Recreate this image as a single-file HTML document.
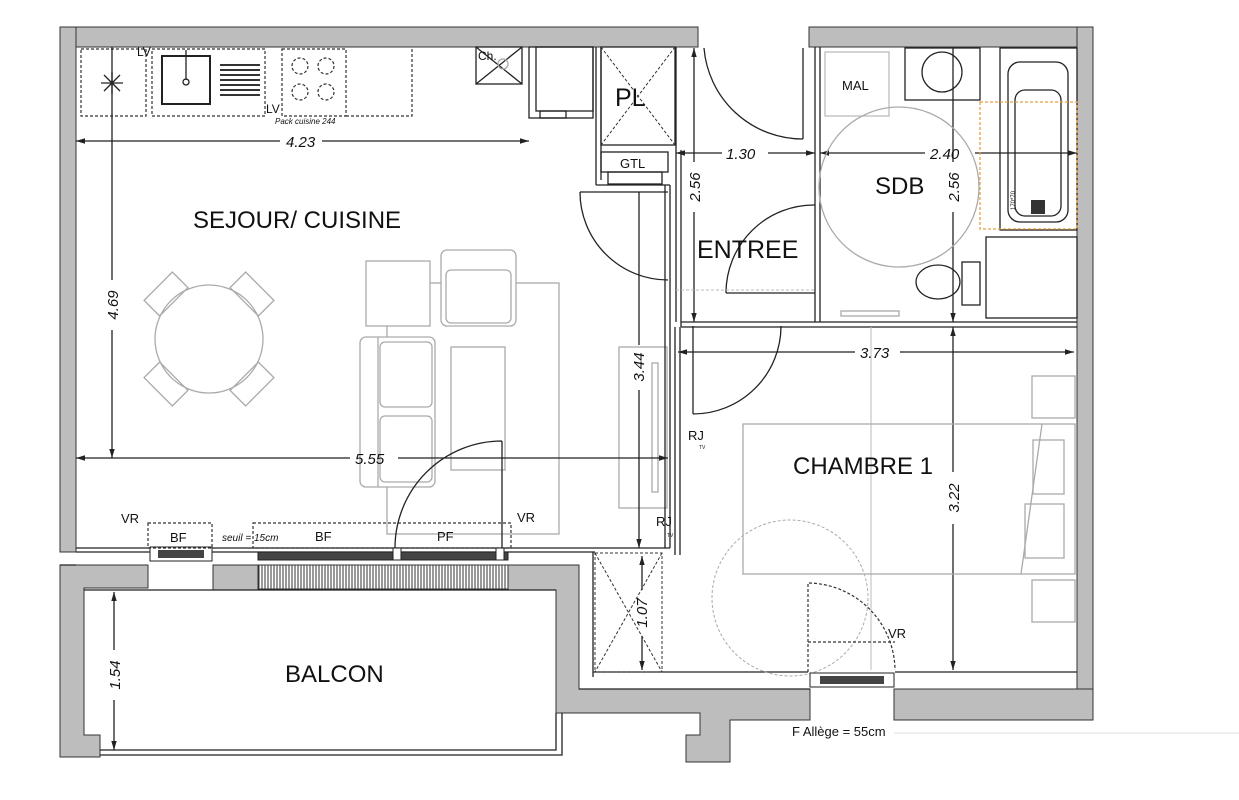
<!DOCTYPE html>
<html><head><meta charset="utf-8"><style>
html,body{margin:0;padding:0;background:#fff;}
svg{display:block;}
text{font-family:"Liberation Sans",sans-serif;fill:#111;}
.d{font-style:italic;font-size:15px;}
.w{fill:#bdbdbd;stroke:#333;stroke-width:1;}
.l{stroke:#222;stroke-width:1.3;fill:none;}
.g{stroke:#aaa;stroke-width:1.3;fill:none;}
.dash{stroke:#333;stroke-width:1.2;fill:none;stroke-dasharray:3,2;}
</style></head><body>
<svg width="1239" height="800" viewBox="0 0 1239 800" xmlns="http://www.w3.org/2000/svg">
<defs>
<pattern id="h" width="3" height="10" patternUnits="userSpaceOnUse"><rect width="3" height="10" fill="#fff"/><line x1="1" y1="0" x2="1" y2="10" stroke="#333" stroke-width="1"/></pattern>
<marker id="a" viewBox="0 0 10 10" refX="10" refY="5" markerWidth="7" markerHeight="7" orient="auto-start-reverse"><path d="M0,2 L10,5 L0,8 z" fill="#222"/></marker>
</defs>
<!-- sejour furniture (drawn first) -->
<circle cx="209" cy="339" r="54" class="g"/>
<g class="g"><rect x="-20" y="-11" width="40" height="22" transform="translate(166,294) rotate(-45)"/><rect x="-20" y="-11" width="40" height="22" transform="translate(252,294) rotate(45)"/><rect x="-20" y="-11" width="40" height="22" transform="translate(166,384) rotate(45)"/><rect x="-20" y="-11" width="40" height="22" transform="translate(252,384) rotate(-45)"/>
<rect x="387" y="283" width="172" height="251"/>
<rect x="366" y="261" width="64" height="65" fill="#fff"/>
<rect x="441" y="250" width="75" height="76" rx="6" fill="#fff"/><rect x="446" y="270" width="65" height="53" rx="5"/>
<rect x="360" y="337" width="75" height="150" rx="6" fill="#fff"/><rect x="380" y="342" width="52" height="65" rx="5"/><rect x="380" y="416" width="52" height="66" rx="5"/><line x1="378" y1="337" x2="378" y2="487"/>
<rect x="451" y="347" width="54" height="123" fill="#fff"/>
<rect x="619" y="347" width="48" height="161"/><rect x="652" y="363" width="6" height="129"/></g>
<!-- walls -->
<rect class="w" x="60" y="27" width="638" height="20"/>
<rect class="w" x="60" y="27" width="16" height="525"/>
<rect class="w" x="809" y="27" width="284" height="20"/>
<rect class="w" x="1077" y="27" width="16" height="693"/>
<polygon class="w" points="60,565 148,565 148,588 84,588 84,735 100,735 100,757 60,757"/>
<rect class="w" x="213" y="565" width="45" height="25"/>
<polygon class="w" points="508,565 579,565 579,689 810,689 810,720 730,720 730,762 686,762 686,735 700,735 700,713 556,713 556,590 508,590"/>
<rect class="w" x="894" y="689" width="199" height="31"/>
<rect x="258" y="565" width="250" height="24" fill="url(#h)" stroke="#333"/>
<!-- balcony -->
<path class="l" d="M84,590 L556,590 M100,750 L556,750 L556,713 M100,755 L562,755 L562,713"/>
<!-- floor line sejour -->
<path class="l" d="M76,548 L595,548 M76,552 L595,552 M76,565 L60,565"/>
<rect x="150" y="547" width="62" height="14" fill="#fff" stroke="#222"/><rect x="158" y="550" width="46" height="8" fill="#444"/>
<rect x="258" y="552" width="250" height="8" fill="#444" stroke="#222"/>
<rect x="393" y="548" width="8" height="12" fill="#fff" stroke="#222"/><rect x="496" y="548" width="8" height="12" fill="#fff" stroke="#222"/>
<rect class="dash" x="148" y="523" width="64" height="25"/>
<rect class="dash" x="253" y="523" width="258" height="25"/>
<!-- partitions -->
<path class="l" d="M596,47 L596,185 M601,47 L601,180 M596,185 L670,185 M665,185 L665,548 M670,185 L670,548 M595,548 L670,548"/>
<path class="l" d="M676,47 L676,322 M681,150 L681,327 M815,47 L815,322 M820,47 L820,322 M681,322 L1077,322 M681,327 L1077,327"/>
<path class="l" d="M675,327 L675,555 M680,327 L680,555 M593,552 L593,677 M593,672 L808,672 M895,672 L1077,672 M579,689 L810,689"/>
<!-- kitchen -->
<rect class="dash" x="81" y="49" width="65" height="67"/>
<rect class="dash" x="152" y="49" width="113" height="67"/>
<rect class="dash" x="282" y="49" width="64" height="67"/>
<path class="dash" d="M346,116 L412,116 L412,49"/>
<rect x="162" y="56" width="48" height="48" fill="none" stroke="#222" stroke-width="2"/>
<line x1="186" y1="50" x2="186" y2="80" class="l"/><circle cx="186" cy="82" r="3" class="l"/>
<g stroke="#333" stroke-width="2"><line x1="220" y1="65" x2="260" y2="65"/><line x1="220" y1="70" x2="260" y2="70"/><line x1="220" y1="75" x2="260" y2="75"/><line x1="220" y1="80" x2="260" y2="80"/><line x1="220" y1="85" x2="260" y2="85"/><line x1="220" y1="90" x2="260" y2="90"/><line x1="220" y1="95" x2="260" y2="95"/></g>
<g class="dash"><circle cx="300" cy="66" r="8"/><circle cx="326" cy="66" r="8"/><circle cx="300" cy="92" r="8"/><circle cx="326" cy="92" r="8"/></g>
<path class="l" d="M101,83 L123,83 M112,72 L112,94 M104,75 L120,91 M120,75 L104,91"/>
<text x="137" y="56" font-size="12">LV</text><text x="266" y="113" font-size="12">LV</text>
<text x="275" y="124" font-size="8" font-style="italic" fill="#444">Pack cuisine 244</text>
<rect x="476" y="47" width="46" height="37" class="l"/><path class="l" d="M476,47 L522,84 M522,47 L476,84"/><circle cx="503" cy="64" r="5" class="g"/>
<text x="478" y="60" font-size="12">Ch.</text>
<rect x="529" y="47" width="64" height="71" class="l"/><rect x="536" y="47" width="57" height="64" class="l"/><rect x="540" y="111" width="26" height="7" class="l"/>
<rect x="601" y="47" width="74" height="98" class="l"/><path d="M601,47 L675,145 M675,47 L601,145" stroke="#333" stroke-dasharray="3,2" fill="none"/>
<text x="615" y="106" font-size="25">PL</text>
<rect x="601" y="152" width="67" height="20" class="l"/><rect x="608" y="172" width="54" height="12" class="l"/>
<text x="620" y="168" font-size="13">GTL</text>
<!-- doors -->
<path class="l" d="M580,192 L668,192 M580,192 A88,88 0 0 0 668,280"/>
<path class="l" d="M803,48 L803,139 M704,48 A99,99 0 0 0 803,139"/>
<path class="l" d="M726,293 L815,293 M815,205 A88,88 0 0 0 726,293"/>
<path class="l" d="M693,326 L693,414 M693,414 A88,88 0 0 0 781,326"/>
<path class="l" d="M502,441 L502,548 M502,441 A107,107 0 0 0 395,548"/>
<!-- dims -->
<g class="l" stroke-width="1"><line x1="76" y1="141" x2="280" y2="141" marker-start="url(#a)"/><line x1="322" y1="141" x2="529" y2="141" marker-end="url(#a)"/>
<line x1="112" y1="47" x2="112" y2="280"/><line x1="112" y1="330" x2="112" y2="458" marker-end="url(#a)"/>
<line x1="76" y1="458" x2="350" y2="458" marker-start="url(#a)"/><line x1="398" y1="458" x2="668" y2="458" marker-end="url(#a)"/>
<line x1="639" y1="192" x2="639" y2="345"/><line x1="639" y1="390" x2="639" y2="548" marker-end="url(#a)"/>
<line x1="676" y1="153" x2="722" y2="153" marker-start="url(#a)"/><line x1="768" y1="153" x2="815" y2="153" marker-end="url(#a)"/>
<line x1="694" y1="48" x2="694" y2="162" marker-start="url(#a)"/><line x1="694" y1="212" x2="694" y2="322" marker-end="url(#a)"/>
<line x1="820" y1="153" x2="925" y2="153" marker-start="url(#a)"/><line x1="975" y1="153" x2="1077" y2="153" marker-end="url(#a)"/>
<line x1="953" y1="48" x2="953" y2="162"/><line x1="953" y1="212" x2="953" y2="322" marker-end="url(#a)"/>
<line x1="678" y1="352" x2="855" y2="352" marker-start="url(#a)"/><line x1="900" y1="352" x2="1074" y2="352" marker-end="url(#a)"/>
<line x1="953" y1="327" x2="953" y2="472" marker-start="url(#a)"/><line x1="953" y1="524" x2="953" y2="670" marker-end="url(#a)"/>
<line x1="642" y1="556" x2="642" y2="590" marker-start="url(#a)"/><line x1="642" y1="636" x2="642" y2="670" marker-end="url(#a)"/>
<line x1="114" y1="592" x2="114" y2="650" marker-start="url(#a)"/><line x1="114" y1="700" x2="114" y2="750" marker-end="url(#a)"/></g>
<text class="d" x="286" y="147">4.23</text><text class="d" x="355" y="464">5.55</text>
<text class="d" x="726" y="159">1.30</text><text class="d" x="930" y="159">2.40</text><text class="d" x="860" y="358">3.73</text>
<text class="d" transform="translate(118,305) rotate(-90)" text-anchor="middle">4.69</text>
<text class="d" transform="translate(644,367) rotate(-90)" text-anchor="middle">3.44</text>
<text class="d" transform="translate(700,187) rotate(-90)" text-anchor="middle">2.56</text>
<text class="d" transform="translate(959,187) rotate(-90)" text-anchor="middle">2.56</text>
<text class="d" transform="translate(959,498) rotate(-90)" text-anchor="middle">3.22</text>
<text class="d" transform="translate(647,613) rotate(-90)" text-anchor="middle">1.07</text>
<text class="d" transform="translate(120,675) rotate(-90)" text-anchor="middle">1.54</text>
<text x="193" y="228" font-size="24">SEJOUR/ CUISINE</text>
<text x="121" y="523" font-size="13">VR</text><text x="517" y="522" font-size="13">VR</text>
<text x="170" y="542" font-size="13">BF</text><text x="222" y="541" font-size="10" font-style="italic">seuil = 15cm</text>
<text x="315" y="541" font-size="13">BF</text><text x="437" y="541" font-size="13">PF</text>
<text x="656" y="526" font-size="13">RJ</text><text x="667" y="537" font-size="5">TV</text>
<text x="285" y="682" font-size="24">BALCON</text>
<!-- entree / sdb -->
<path d="M676,290 L815,290" stroke="#bbb" stroke-dasharray="3,2"/>
<text x="697" y="258" font-size="25">ENTREE</text>
<rect x="825" y="52" width="64" height="64" stroke="#aaa" fill="none"/><text x="842" y="90" font-size="13" fill="#999">MAL</text>
<rect x="905" y="48" width="75" height="52" class="l"/><circle cx="942" cy="72" r="20" class="l"/>
<rect x="1000" y="48" width="77" height="182" class="l"/><rect x="1008" y="62" width="60" height="160" rx="12" class="l"/><rect x="1015" y="90" width="46" height="126" rx="10" class="l"/>
<rect x="1031" y="200" width="14" height="14" fill="#333"/>
<rect x="980" y="102" width="97" height="127" fill="none" stroke="#e8a040" stroke-dasharray="3,2" stroke-width="1.3"/>
<circle cx="899" cy="187" r="80" class="g"/>
<text x="875" y="194" font-size="24">SDB</text>
<ellipse cx="938" cy="282" rx="22" ry="17" class="l"/><rect x="962" y="262" width="18" height="43" class="l"/>
<rect x="986" y="237" width="91" height="81" class="l"/>
<rect x="841" y="311" width="58" height="5" class="g"/>
<text x="995" y="220" font-size="6" transform="rotate(-90 1000 205)">170*70</text>
<!-- chambre -->
<line x1="871" y1="327" x2="871" y2="670" stroke="#bbb"/>
<g class="g"><rect x="743" y="424" width="332" height="150"/><line x1="1042" y1="424" x2="1021" y2="574"/>
<rect x="1032" y="376" width="43" height="42"/><rect x="1033" y="440" width="31" height="54"/><rect x="1025" y="504" width="39" height="54"/><rect x="1032" y="580" width="43" height="42"/></g>
<circle cx="790" cy="598" r="78" fill="none" stroke="#aaa" stroke-dasharray="3,2"/>
<text x="793" y="474" font-size="24">CHAMBRE 1</text>
<text x="688" y="440" font-size="13">RJ</text><text x="699" y="449" font-size="5">TV</text>
<path class="dash" d="M808,672 L808,583 A88,88 0 0 1 895,670 M808,642 L895,642"/>
<text x="888" y="638" font-size="13">VR</text>
<rect x="810" y="673" width="84" height="14" fill="#fff" stroke="#222"/><rect x="820" y="676" width="64" height="8" fill="#444"/>
<rect x="595" y="553" width="67" height="119" fill="none" stroke="#333" stroke-dasharray="3,2"/><path d="M595,553 L662,672 M662,553 L595,672" stroke="#333" stroke-dasharray="3,2"/>
<text x="792" y="736" font-size="13">F  Allège = 55cm</text>
<line x1="894" y1="733" x2="1239" y2="733" stroke="#ddd"/>
</svg>
</body></html>
